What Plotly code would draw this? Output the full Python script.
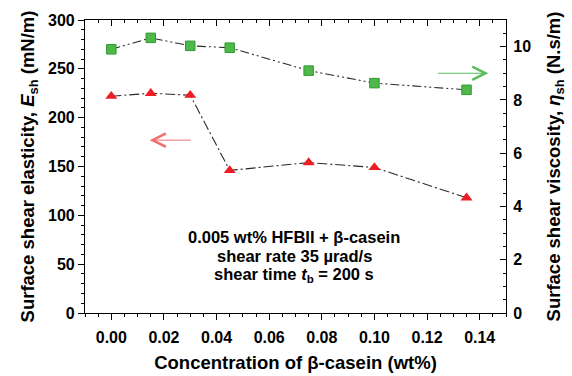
import plotly.graph_objects as go

conc = [0.0, 0.015, 0.03, 0.045, 0.075, 0.10, 0.135]
elasticity = [222, 225, 223, 146, 154, 149, 118]          # mN/m, left axis
viscosity = [9.9, 10.33, 10.03, 9.96, 9.1, 8.63, 8.38]   # N.s/m, right axis

x_ticks = [0.0, 0.02, 0.04, 0.06, 0.08, 0.10, 0.12, 0.14]
x_ticklabels = ["0.00", "0.02", "0.04", "0.06", "0.08", "0.10", "0.12", "0.14"]

note_lines = ["0.005 wt% HFBII + β-casein",
              "shear rate 35 µrad/s",
              "shear time <i>t</i><sub>b</sub> = 200 s"]
note_y = [78, 58.5, 39]

FONT = "Liberation Sans, Arial, sans-serif"
tickfont = dict(family=FONT, size=16, color="black", weight="bold")
titlefont = dict(family=FONT, size=18.5, color="black", weight="bold")

fig = go.Figure()

fig.add_trace(go.Scatter(
    x=conc, y=viscosity, yaxis="y2", mode="lines+markers",
    line=dict(color="#2a2a2a", width=1.1, dash="9px,3px,2px,3px,2px,3px"),
    marker=dict(symbol="square", size=9.5, color="#4fb848",
                line=dict(color="#2f9a2f", width=1)),
    showlegend=False, hoverinfo="skip"))

fig.add_trace(go.Scatter(
    x=conc, y=elasticity, mode="lines+markers",
    line=dict(color="#2a2a2a", width=1.1, dash="10px,3px,2px,3px"),
    marker=dict(symbol="triangle-up", size=10.5, color="#ee1c25",
                line=dict(color="#ee1c25", width=0)),
    showlegend=False, hoverinfo="skip"))

# dummy trace for top mirrored axis
fig.add_trace(go.Scatter(x=[conc[0]], y=[elasticity[0]], xaxis="x2", mode="markers",
                         marker=dict(opacity=0), showlegend=False, hoverinfo="skip"))

axis_common = dict(showline=True, linecolor="black", linewidth=1.2, showgrid=False,
                   zeroline=False, tickcolor="black", tickfont=tickfont, automargin=False)

fig.update_layout(
    width=572, height=376,
    margin=dict(l=85, r=66, t=20, b=63),
    paper_bgcolor="white", plot_bgcolor="white",
    xaxis=dict(range=[-0.01, 0.15], tickvals=x_ticks, ticktext=x_ticklabels,
               ticks="outside", ticklen=6, tickwidth=1, ticklabelstandoff=4,
               minor=dict(dtick=0.005, tick0=0, ticks="outside", ticklen=3, tickcolor="black"),
               title=dict(text="Concentration of β-casein (wt%)", font=titlefont, standoff=10),
               **axis_common),
    xaxis2=dict(range=[-0.01, 0.15], overlaying="x", side="top", anchor="y",
                tickvals=x_ticks, showticklabels=False, ticks="inside", ticklen=6,
                minor=dict(dtick=0.005, tick0=0, ticks="inside", ticklen=3, tickcolor="black"),
                showline=True, linecolor="black", linewidth=1.2, showgrid=False,
                zeroline=False, tickcolor="black", automargin=False),
    yaxis=dict(range=[0, 300], dtick=50, ticks="outside", ticklen=6,
               minor=dict(dtick=10, ticks="outside", ticklen=3, tickcolor="black"),
               title=dict(text="Surface shear elasticity, <i>E</i><sub>sh</sub> (mN/m)",
                          font=titlefont, standoff=8),
               **axis_common),
    yaxis2=dict(range=[0, 11], dtick=2, overlaying="y", side="right", anchor="x",
                ticks="inside", ticklen=6, ticklabelstandoff=3,
                minor=dict(dtick=0.5, ticks="inside", ticklen=3, tickcolor="black"),
                title=dict(text="Surface shear viscosity, <i>η</i><sub>sh</sub> (N.s/m)",
                           font=titlefont, standoff=16),
                **axis_common),
)

# arrows
fig.add_annotation(x=0.0146, y=177, ax=0.0308, ay=177, xref="x", yref="y",
                   axref="x", ayref="y", text="", showarrow=True,
                   arrowhead=5, arrowsize=2.6, arrowwidth=1, arrowcolor="#f07070")
fig.add_annotation(x=0.1433, y=9.0, ax=0.1236, ay=9.0, xref="x", yref="y2",
                   axref="x", ayref="y2", text="", showarrow=True,
                   arrowhead=5, arrowsize=2.6, arrowwidth=1, arrowcolor="#5cbf5c")

for line, yv in zip(note_lines, note_y):
    fig.add_annotation(x=0.0695, y=yv, xref="x", yref="y", text=line,
                       showarrow=False, align="center", yanchor="middle",
                       font=dict(family=FONT, size=16.5, color="black", weight="bold"))

fig.write_html("out.html")
